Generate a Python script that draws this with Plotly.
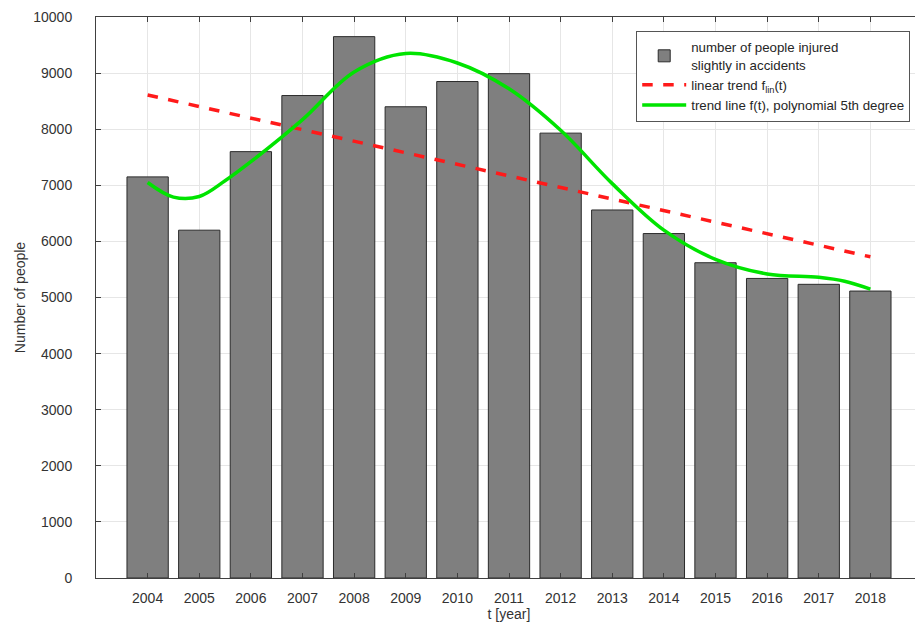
import plotly.graph_objects as go

years = [2004, 2005, 2006, 2007, 2008, 2009, 2010, 2011, 2012, 2013, 2014, 2015, 2016, 2017, 2018]
injured = [7150, 6200, 7600, 8600, 9650, 8400, 8850, 8990, 7930, 6560, 6140, 5620, 5340, 5235, 5115]

lin_years = [2004, 2018]
lin_values = [8610, 5725]

poly_years = [2004, 2004.5, 2005, 2005.5, 2006, 2007, 2008, 2009, 2010, 2011, 2012, 2013, 2014, 2015, 2016, 2017, 2017.5, 2018]
poly_values = [7050, 6790, 6800, 7080, 7420, 8170, 9020, 9350, 9180, 8720, 7980, 7030, 6200, 5680, 5420, 5360, 5290, 5150]

y_ticks = list(range(0, 10001, 1000))
y_ticktext = [str(v) for v in y_ticks]

font_family = "Liberation Sans, Arial, sans-serif"
axis_col = "#404040"

fig = go.Figure()
fig.add_trace(go.Bar(
    x=years, y=injured, width=0.8,
    marker=dict(color="#7f7f7f", line=dict(color="#2b2b2b", width=1)),
    name="number of people injured<br>slightly in accidents",
))
fig.add_trace(go.Scatter(
    x=lin_years, y=lin_values, mode="lines",
    line=dict(color="#ff1a1a", width=3.5, dash="dash"),
    name="linear trend f<sub>lin</sub>(t)",
))
fig.add_trace(go.Scatter(
    x=poly_years, y=poly_values, mode="lines",
    line=dict(color="#00e400", width=3.5, shape="spline", smoothing=1.0),
    name="trend line f(t), polynomial 5th degree",
))

# page body has an 8px margin: the figure is shifted accordingly
fig.update_layout(
    width=915, height=622,
    margin=dict(l=88, r=1, t=9, b=52, autoexpand=False),
    paper_bgcolor="white", plot_bgcolor="white",
    font=dict(family=font_family, size=14, color="#333333"),
    showlegend=True,
    legend=dict(
        x=0.654, y=0.975, xanchor="left", yanchor="top",
        bgcolor="white", bordercolor="#555555", borderwidth=1,
        font=dict(size=13.3, color="#262626"),
        itemwidth=44, tracegroupgap=0,
    ),
    bargap=0.2,
)
fig.update_xaxes(
    range=[2003, 2019], tickmode="array", tickvals=years,
    ticktext=[str(y) for y in years],
    showgrid=True, gridcolor="#e6e6e6", gridwidth=1,
    ticks="inside", ticklen=5, tickcolor=axis_col,
    showline=True, linecolor=axis_col, linewidth=1, mirror="ticks",
    zeroline=False, automargin=False, ticklabelstandoff=7,
    title=dict(text="t [year]", font=dict(size=14), standoff=2),
    tickfont=dict(size=14),
)
fig.update_yaxes(
    range=[0, 10000], tickmode="array", tickvals=y_ticks, ticktext=y_ticktext,
    showgrid=True, gridcolor="#e6e6e6", gridwidth=1,
    ticks="inside", ticklen=5, tickcolor=axis_col,
    showline=True, linecolor=axis_col, linewidth=1, mirror="ticks",
    zeroline=False, automargin=False, ticklabelstandoff=20,
    title=dict(text="Number of people", font=dict(size=14), standoff=4),
    tickfont=dict(size=14),
)

fig.write_html("out.html")
